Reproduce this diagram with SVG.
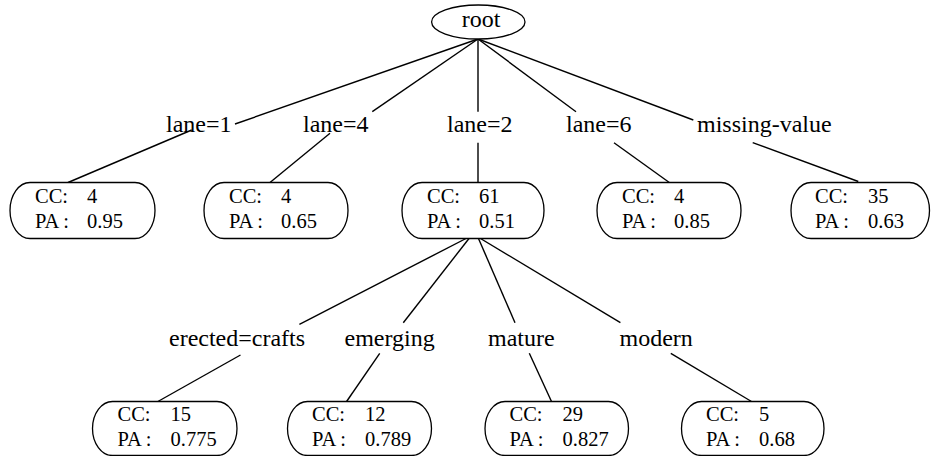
<svg xmlns="http://www.w3.org/2000/svg" width="931" height="456" viewBox="0 0 931 456">
<style>
.bg{fill:#ffffff}
.edge{stroke:#000;stroke-width:1.4;fill:none}
.box{fill:#fff;stroke:#000;stroke-width:1.3}
.nt{font-family:'Liberation Serif',Tinos,'Noto Serif','Nimbus Roman','Nimbus Roman No9 L',FreeSerif,Times,'DejaVu Serif',serif;font-size:20.5px;fill:#000}
.lbl{font-family:'Liberation Serif',Tinos,'Noto Serif','Nimbus Roman','Nimbus Roman No9 L',FreeSerif,Times,'DejaVu Serif',serif;font-size:24px;fill:#000}
</style>
<rect class="bg" x="0" y="0" width="931" height="456"/>
<g id="connectors">
<line class="edge" x1="478" y1="39" x2="235" y2="124"/>
<line class="edge" x1="191.7" y1="130" x2="68" y2="182.5"/>
<line class="edge" x1="478" y1="39" x2="372.3" y2="111.7"/>
<line class="edge" x1="330" y1="133.3" x2="270" y2="182.5"/>
<line class="edge" x1="478" y1="39" x2="478" y2="111.7"/>
<line class="edge" x1="478" y1="142.7" x2="478" y2="182.5"/>
<line class="edge" x1="478" y1="39" x2="576" y2="111.7"/>
<line class="edge" x1="614" y1="142.7" x2="669.3" y2="182.5"/>
<line class="edge" x1="478" y1="39" x2="693.3" y2="120"/>
<line class="edge" x1="752.7" y1="142.7" x2="858.3" y2="181.5"/>
<line class="edge" x1="466" y1="238.5" x2="299.4" y2="324.3"/>
<line class="edge" x1="240.5" y1="355" x2="157.9" y2="401.5"/>
<line class="edge" x1="469" y1="238.5" x2="403.3" y2="322.7"/>
<line class="edge" x1="379.7" y1="353.3" x2="346.6" y2="401.5"/>
<line class="edge" x1="478.5" y1="238.5" x2="515" y2="322.7"/>
<line class="edge" x1="529.3" y1="353.3" x2="551.5" y2="401.5"/>
<line class="edge" x1="480.5" y1="238.5" x2="620.4" y2="322.7"/>
<line class="edge" x1="670.8" y1="353.3" x2="751.5" y2="401.5"/>
<text class="lbl" x="166" y="131.5">lane=1</text>
<text class="lbl" x="303" y="131.5">lane=4</text>
<text class="lbl" x="447" y="131.5">lane=2</text>
<text class="lbl" x="566" y="131.5">lane=6</text>
<text class="lbl" x="697" y="131.5">missing-value</text>
<text class="lbl" x="169" y="346">erected=crafts</text>
<text class="lbl" x="344.5" y="346">emerging</text>
<text class="lbl" x="488" y="346">mature</text>
<text class="lbl" x="619.5" y="346">modern</text>
</g>
<g id="root">
<ellipse class="box" cx="478.3" cy="22" rx="46.7" ry="17"/>
<text class="lbl" x="461.7" y="26.7">root</text>
</g>
<g id="n_lane1">
<rect class="box" x="10" y="182.5" width="145" height="56" rx="20" ry="28"/>
<text class="nt" x="35" y="202.5">CC:</text><text class="nt" x="87" y="202.5">4</text>
<text class="nt" x="35" y="227.5">PA :</text><text class="nt" x="87" y="227.5">0.95</text>
</g>
<g id="n_lane4">
<rect class="box" x="204" y="182.5" width="144" height="56" rx="20" ry="28"/>
<text class="nt" x="229" y="202.5">CC:</text><text class="nt" x="281" y="202.5">4</text>
<text class="nt" x="229" y="227.5">PA :</text><text class="nt" x="281" y="227.5">0.65</text>
</g>
<g id="n_lane2">
<rect class="box" x="402" y="182.5" width="142" height="56" rx="20" ry="28"/>
<text class="nt" x="427" y="202.5">CC:</text><text class="nt" x="479" y="202.5">61</text>
<text class="nt" x="427" y="227.5">PA :</text><text class="nt" x="479" y="227.5">0.51</text>
</g>
<g id="n_lane6">
<rect class="box" x="597" y="182.5" width="144" height="56" rx="20" ry="28"/>
<text class="nt" x="622" y="202.5">CC:</text><text class="nt" x="674" y="202.5">4</text>
<text class="nt" x="622" y="227.5">PA :</text><text class="nt" x="674" y="227.5">0.85</text>
</g>
<g id="n_missing">
<rect class="box" x="791" y="182.5" width="138.5" height="56" rx="20" ry="28"/>
<text class="nt" x="815" y="202.5">CC:</text><text class="nt" x="868" y="202.5">35</text>
<text class="nt" x="815" y="227.5">PA :</text><text class="nt" x="868" y="227.5">0.63</text>
</g>
<g id="n_erected">
<rect class="box" x="92.5" y="401.5" width="144.5" height="54" rx="20" ry="27"/>
<text class="nt" x="117.5" y="421">CC:</text><text class="nt" x="170.5" y="421">15</text>
<text class="nt" x="117.5" y="446">PA :</text><text class="nt" x="170.5" y="446">0.775</text>
</g>
<g id="n_emerging">
<rect class="box" x="287.5" y="401.5" width="144" height="54" rx="20" ry="27"/>
<text class="nt" x="312" y="421">CC:</text><text class="nt" x="365" y="421">12</text>
<text class="nt" x="312" y="446">PA :</text><text class="nt" x="365" y="446">0.789</text>
</g>
<g id="n_mature">
<rect class="box" x="485" y="401.5" width="143.5" height="54" rx="20" ry="27"/>
<text class="nt" x="509.5" y="421">CC:</text><text class="nt" x="562.5" y="421">29</text>
<text class="nt" x="509.5" y="446">PA :</text><text class="nt" x="562.5" y="446">0.827</text>
</g>
<g id="n_modern">
<rect class="box" x="681.5" y="401.5" width="142.5" height="54" rx="20" ry="27"/>
<text class="nt" x="706" y="421">CC:</text><text class="nt" x="759" y="421">5</text>
<text class="nt" x="706" y="446">PA :</text><text class="nt" x="759" y="446">0.68</text>
</g>
</svg>
